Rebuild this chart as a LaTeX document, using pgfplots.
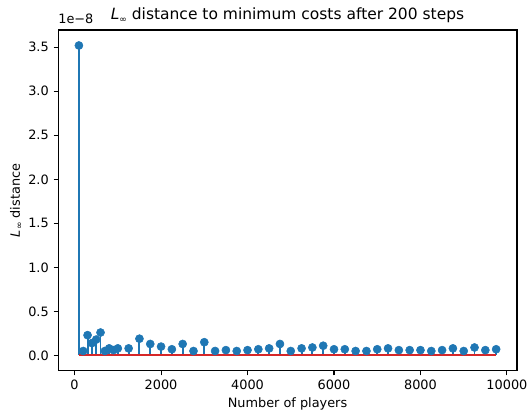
\documentclass[border=0pt]{standalone}
\usepackage{fontspec}
\setmainfont{DejaVu Sans}
\usepackage{pgfplots}
\usepackage{pgfplotstable}
\pgfplotsset{compat=1.18}
\definecolor{mplblue}{HTML}{1F77B4}
\definecolor{mplred}{HTML}{D62728}
\newcommand{\Linf}{{\itshape L}\raisebox{-0.35ex}{\fontsize{6.5}{8}\selectfont ∞}}

% L-infinity distance (in units of 1e-8) per number of players
\pgfplotstableread{
players dist
100  3.52
200  0.05
300  0.23
400  0.14
500  0.18
600  0.26
700  0.05
800  0.08
900  0.06
1000 0.08
1250 0.08
1500 0.19
1750 0.13
2000 0.10
2250 0.07
2500 0.13
2750 0.05
3000 0.15
3250 0.05
3500 0.06
3750 0.05
4000 0.06
4250 0.07
4500 0.08
4750 0.13
5000 0.05
5250 0.08
5500 0.09
5750 0.11
6000 0.07
6250 0.07
6500 0.05
6750 0.05
7000 0.07
7250 0.08
7500 0.06
7750 0.06
8000 0.06
8250 0.05
8500 0.06
8750 0.08
9000 0.05
9250 0.09
9500 0.06
9750 0.07
}\distdata

\begin{document}
\begin{tikzpicture}
\begin{axis}[
  scale only axis,
  width=330.5bp, height=245.5bp,
  xmin=-382.5, xmax=10232.5,
  ymin=-0.176, ymax=3.696,
  xtick={0,2000,4000,6000,8000,10000},
  ytick={0,0.5,1,1.5,2,2.5,3,3.5},
  scaled x ticks=false,
  yticklabel style={/pgf/number format/fixed, /pgf/number format/fixed zerofill, /pgf/number format/precision=1},
  xticklabel style={/pgf/number format/1000 sep={}},
  /pgf/number format/assume math mode=true,
  ticklabel style={font=\fontsize{9.3}{11}\selectfont},
  tick align=outside, tick pos=left,
  major tick length=3.2bp,
  every tick/.style={black, line width=0.75bp},
  axis line style={line width=0.75bp},
  xlabel={Number of players},
  ylabel={\Linf{} distance},
  label style={font=\fontsize{9.3}{11}\selectfont},
  xlabel style={yshift=1bp},
  ylabel style={yshift=-2.5bp},
  title={\Linf{} distance to minimum costs after 200 steps},
  title style={font=\fontsize{11.2}{13}\selectfont, yshift=-4.5bp},
  clip=false,
]
  % stems
  \addplot[ycomb, mplblue, line width=1.4bp] table[x=players, y=dist] {\distdata};
  % baseline
  \addplot[mplred, line width=1.4bp] coordinates {(100,0) (9750,0)};
  % stem heads
  \addplot[only marks, mark=*, mark size=2.9bp, mark options={fill=mplblue, draw=mplblue}] table[x=players, y=dist] {\distdata};
  \node[anchor=south west, inner sep=0pt, font=\fontsize{9.3}{11}\selectfont] at (rel axis cs:0,1) [yshift=4bp] {1e−8};
\end{axis}
\pgfresetboundingbox
\path ([shift={(-41.8bp,-32.4bp)}]current axis.south west) rectangle ([shift={(7.2bp,21.6bp)}]current axis.north east);
\end{tikzpicture}
\end{document}
